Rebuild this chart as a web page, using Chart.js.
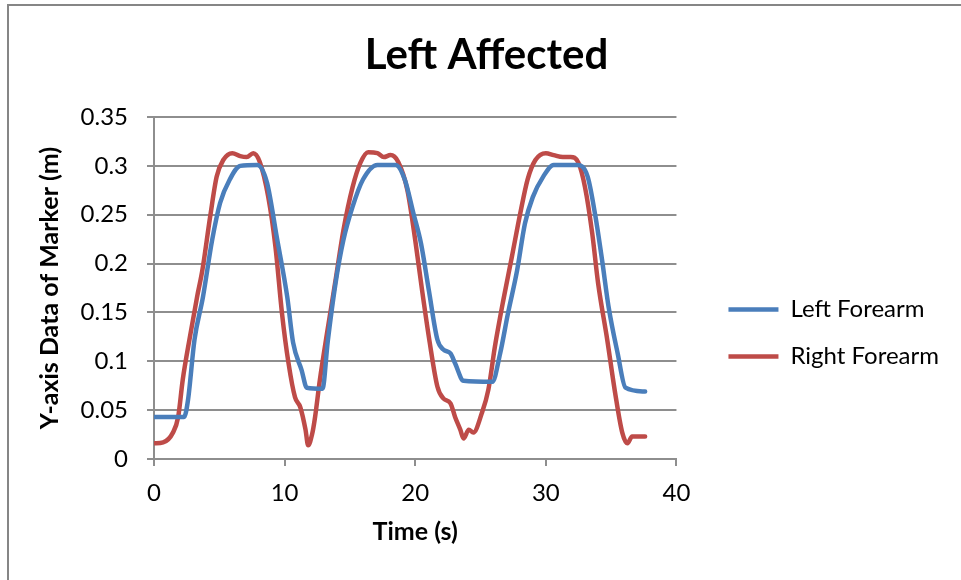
<!DOCTYPE html>
<html>
<head>
<meta charset="utf-8">
<style>
    body{
        margin: 0;
        background: #fff;
        overflow: hidden;
    }
</style>
</head>
<body>
<canvas id="chart" width="961" height="580"></canvas>
<script src="https://cdn.jsdelivr.net/npm/chart.js"></script>
<script>
    // marker height over time, one series per forearm
    const leftTime = [0, 2.3, 2.6, 3.1, 3.75, 4.45, 5.06, 5.8, 6.6, 7.9, 8.65, 9.4, 10.2, 10.65, 11.3, 11.7, 12.9,
        13.3, 13.9, 14.5, 15.2, 16.0, 17.1, 18.5, 19.2, 19.85, 20.45, 21.05, 21.7, 22.15, 22.7, 23.05, 23.7, 25.9,
        26.5, 27.1, 27.8, 28.4, 29.0, 29.8, 30.6, 32.4, 33.2, 33.8, 34.3, 34.8, 35.5, 36.1, 37.6];
    const leftValue = [0.043, 0.043, 0.06, 0.122, 0.166, 0.224, 0.262, 0.286, 0.3, 0.301, 0.283, 0.227, 0.166, 0.119, 0.091, 0.073, 0.072,
        0.12, 0.18, 0.224, 0.258, 0.286, 0.301, 0.301, 0.286, 0.252, 0.22, 0.172, 0.122, 0.112, 0.108, 0.098, 0.08, 0.079,
        0.108, 0.149, 0.193, 0.241, 0.268, 0.289, 0.301, 0.301, 0.289, 0.248, 0.204, 0.156, 0.108, 0.073, 0.069];

    const rightTime = [0, 0.7, 1.45, 1.85, 2.2, 2.75, 3.3, 3.7, 4.3, 4.8, 5.3, 6.0, 6.6, 7.1, 7.6, 8.1, 8.75, 9.3, 9.8,
        10.3, 10.8, 11.2, 11.6, 11.8, 12.1, 12.3, 12.7, 13.25, 13.9, 14.5, 15.2, 15.8, 16.4, 17.1, 17.6, 18.1, 18.7,
        19.4, 20.0, 20.5, 21.1, 21.7, 22.15, 22.7, 23.05, 23.45, 23.7, 24.1, 24.45, 25.1, 25.6, 26.1, 26.75, 27.4,
        28.05, 28.6, 29.2, 30.0, 30.6, 31.3, 31.9, 32.5, 33.0, 33.55, 34.0, 34.7, 35.3, 35.85, 36.25, 36.6, 37.6];
    const rightValue = [0.016, 0.017, 0.027, 0.043, 0.081, 0.125, 0.166, 0.193, 0.248, 0.289, 0.306, 0.313, 0.31, 0.309, 0.313, 0.304, 0.268, 0.217, 0.149,
        0.098, 0.063, 0.053, 0.03, 0.014, 0.025, 0.04, 0.081, 0.129, 0.183, 0.234, 0.278, 0.303, 0.314, 0.313, 0.309, 0.311, 0.304,
        0.275, 0.224, 0.175, 0.12, 0.074, 0.062, 0.057, 0.043, 0.03, 0.021, 0.03, 0.027, 0.047, 0.071, 0.115, 0.163, 0.207,
        0.252, 0.286, 0.306, 0.313, 0.311, 0.309, 0.309, 0.303, 0.278, 0.231, 0.18, 0.122, 0.068, 0.027, 0.016, 0.023, 0.023];

    const seriesNames = ['Left Forearm', 'Right Forearm'];
    const yTicks = [0, 0.05, 0.1, 0.15, 0.2, 0.25, 0.3, 0.35];
    const xTicks = [0, 10, 20, 30, 40];

    const gridGray = '#8e8e8e';

    function toPoints(xs, ys){
        return xs.map((x, i) => ({x: x, y: ys[i]}));
    }

    // white page with the outer frame line
    const framePlugin = {
        id: 'frame',
        beforeDraw(chart){
            const c = chart.ctx;
            c.save();
            c.fillStyle = '#fff';
            c.fillRect(0, 0, chart.width, chart.height);
            c.strokeStyle = '#868686';
            c.lineWidth = 2;
            c.strokeRect(8, 5, chart.width + 20, chart.height + 20);
            c.restore();
        }
    };

    Chart.defaults.font.family = 'Lato';
    Chart.defaults.color = '#000';

    function lineSet(label, xs, ys, color){
        return {
            label: label,
            data: toPoints(xs, ys),
            showLine: true,
            borderColor: color,
            backgroundColor: color,
            borderWidth: 4.5,
            pointRadius: 0,
            cubicInterpolationMode: 'monotone',
            borderCapStyle: 'round',
            borderJoinStyle: 'round'
        };
    }

    new Chart(document.getElementById('chart'), {
        type: 'scatter',
        data: {
            datasets: [
                lineSet(seriesNames[0], leftTime, leftValue, '#4a7ebb'),
                lineSet(seriesNames[1], rightTime, rightValue, '#be4b48')
            ]
        },
        options: {
            responsive: false,
            animation: false,
            layout: {padding: {left: 24, right: 12, top: 0, bottom: 0}},
            plugins: {
                title: {
                    display: true,
                    text: 'Left Affected',
                    font: {size: 42, weight: 'bold'},
                    padding: {top: 30, bottom: 36.6}
                },
                legend: {
                    position: 'right',
                    maxWidth: 300,
                    title: {display: true, text: ' ', font: {size: 10}, padding: {top: 0, bottom: 74}},
                    labels: {
                        usePointStyle: true,
                        pointStyle: 'line',
                        pointStyleWidth: 50,
                        padding: 23,
                        font: {size: 24}
                    }
                },
                tooltip: {enabled: false}
            },
            scales: {
                x: {
                    type: 'linear',
                    min: 0,
                    max: 40,
                    afterBuildTicks(s){ s.ticks = xTicks.map(v => ({value: v})); },
                    afterFit(s){ s.height = 121; },
                    grid: {drawOnChartArea: false, color: gridGray, lineWidth: 2, tickLength: 7},
                    border: {color: gridGray, width: 2},
                    ticks: {font: {size: 24}, padding: 13, maxRotation: 0},
                    title: {display: true, text: 'Time (s)', font: {size: 25, weight: 'bold'}, padding: {top: 0, bottom: 33}}
                },
                y: {
                    type: 'linear',
                    min: 0,
                    max: 0.35,
                    afterBuildTicks(s){ s.ticks = yTicks.map(v => ({value: v})); },
                    afterFit(s){ s.width = 130; },
                    grid: {color: gridGray, lineWidth: 2, tickLength: 7},
                    border: {color: gridGray, width: 2},
                    ticks: {font: {size: 24}, padding: 19, callback: v => String(+v.toFixed(2))},
                    title: {display: true, text: 'Y-axis Data of Marker (m)', font: {size: 25, weight: 'bold'}, padding: {top: 11, bottom: 0}}
                },
                // spacer between the plot and the legend
                gap: {
                    type: 'linear',
                    position: 'right',
                    grid: {display: false},
                    border: {display: false},
                    ticks: {display: false},
                    afterFit(s){ s.width = 29; }
                }
            }
        },
        plugins: [framePlugin]
    });
</script>
</body>
</html>
